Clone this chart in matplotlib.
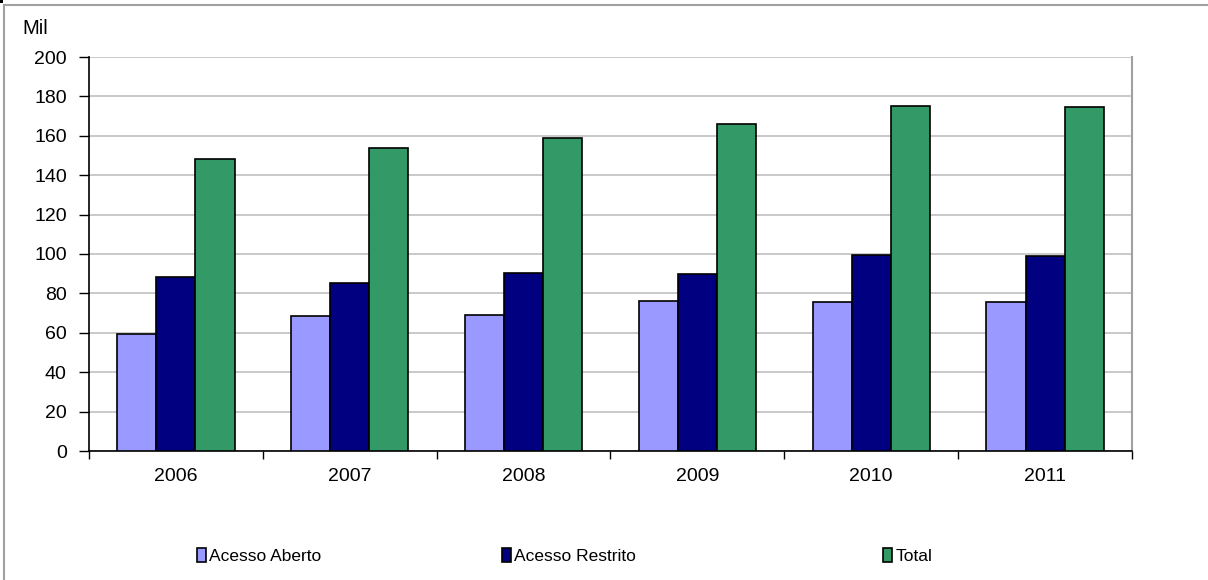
import matplotlib.pyplot as plt
import matplotlib.patches as mpatches
import numpy as np

# values in thousands
years = ['2006', '2007', '2008', '2009', '2010', '2011']
acesso_aberto = [59.5, 68.5, 69, 76, 75.5, 75.5]
acesso_restrito = [88.5, 85.5, 90.5, 90, 99.5, 99]
total = [148, 154, 159, 166, 175, 174.5]

series_names = ['Acesso Aberto', 'Acesso Restrito', 'Total']
colors = ['#9999FF', '#000080', '#339966']

plt.rcParams['font.family'] = ['Liberation Sans', 'DejaVu Sans']

fig = plt.figure(figsize=(12.08, 5.80), dpi=100)
ax = fig.add_axes([89 / 1208, 1 - 451 / 580, (1132 - 89) / 1208, (451 - 57) / 580])

x = np.arange(len(years))
w = 0.225
bars = []
for i, (vals, c) in enumerate(zip([acesso_aberto, acesso_restrito, total], colors)):
    b = ax.bar(x + (i - 1) * w, vals, w, color=c, edgecolor='black', linewidth=1.2, zorder=3)
    bars.append(b)

ax.set_xlim(-0.5, len(years) - 0.5)
ax.set_ylim(0, 200)
ax.set_yticks(range(0, 201, 20))
ax.yaxis.grid(True, color='#C0C0C0', linewidth=1.2, zorder=0)

# category labels centred, tick marks on the boundaries
ax.set_xticks(x)
ax.set_xticklabels(years)
ax.set_xticks(np.arange(-0.5, len(years)), minor=True)
ax.tick_params(axis='x', which='major', length=0, pad=12.5, labelsize=14)
ax.tick_params(axis='x', which='minor', length=6, width=1, color='black', direction='out')
ax.tick_params(axis='y', length=7, width=1, color='black', direction='out', pad=9, labelsize=14)

for side in ['left', 'bottom']:
    ax.spines[side].set_color('black')
    ax.spines[side].set_linewidth(1.2)
ax.spines['right'].set_color('#A0A0A0')
ax.spines['right'].set_linewidth(1.5)
ax.spines['top'].set_visible(False)

fig.text(22 / 1208, 1 - 29 / 580, 'Mil', fontsize=14.5, va='center', ha='left')

# legend entries spread along the bottom
legend_x = [197 / 1208, 502 / 1208, 883 / 1208]
for b, name, lx in zip(bars, series_names, legend_x):
    fig.legend([b], [name], loc='center left', bbox_to_anchor=(lx, 1 - 556 / 580),
               frameon=False, fontsize=12.5, handlelength=0.5, handleheight=0.85,
               handletextpad=0.2, borderpad=0, borderaxespad=0)

# outer chart border
fig.patches.append(mpatches.Rectangle((3.5 / 1208, -0.1), 1.2, 1 - 5 / 580 + 0.1,
                                      transform=fig.transFigure, fill=False,
                                      edgecolor='#A0A0A0', linewidth=1.5))
fig.patches.append(mpatches.Rectangle((0, 1 - 3 / 580), 3 / 1208, 3 / 580,
                                      transform=fig.transFigure, facecolor='black',
                                      edgecolor='none'))

fig.savefig('out.png', dpi=100)
